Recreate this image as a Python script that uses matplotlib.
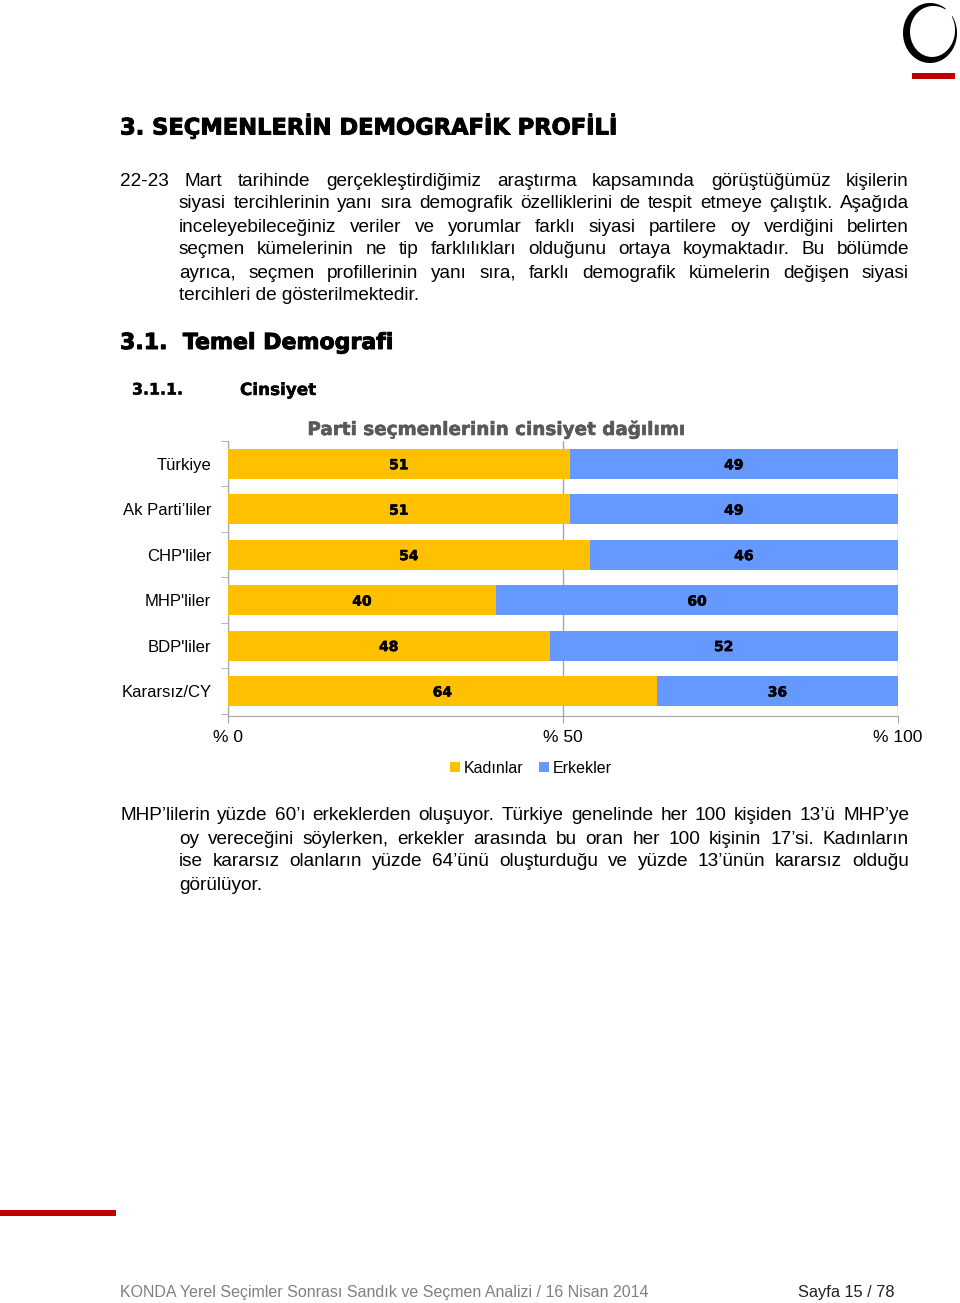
import numpy as np
import matplotlib

matplotlib.use("Agg")
import matplotlib.pyplot as plt  # noqa: E402
import matplotlib.patheffects as pe  # noqa: E402
from matplotlib.patches import Polygon, Rectangle  # noqa: E402

# ---- data -----------------------------------------------------------------
categories = ["Türkiye", "Ak Parti’liler", "CHP'liler", "MHP'liler", "BDP'liler", "Kararsız/CY"]
kadinlar = [51, 51, 54, 40, 48, 64]
erkekler = [49, 49, 46, 60, 52, 36]
series_names = ["Kadınlar", "Erkekler"]
x_ticks = [0, 50, 100]
x_ticklabels = ["% 0", "% 50", "% 100"]

YELLOW = "#FFC000"
BLUE = "#6699FF"
RED = "#C00000"
GRID = "#A6A6A6"
BODY = "Liberation Sans"
HEAVY = "DejaVu Sans"

PARA1 = [
    "22-23 Mart tarihinde gerçekleştirdiğimiz araştırma kapsamında görüştüğümüz kişilerin",
    "siyasi tercihlerinin yanı sıra demografik özelliklerini de tespit etmeye çalıştık. Aşağıda",
    "inceleyebileceğiniz veriler ve yorumlar farklı siyasi partilere oy verdiğini belirten",
    "seçmen kümelerinin ne tip farklılıkları olduğunu ortaya koymaktadır. Bu bölümde",
    "ayrıca, seçmen profillerinin yanı sıra, farklı demografik kümelerin değişen siyasi",
    "tercihleri de gösterilmektedir.",
]
PARA2 = [
    "MHP’lilerin yüzde 60’ı erkeklerden oluşuyor. Türkiye genelinde her 100 kişiden 13’ü MHP’ye",
    "oy vereceğini söylerken, erkekler arasında bu oran her 100 kişinin 17’si. Kadınların",
    "ise kararsız olanların yüzde 64’ünü oluşturduğu ve yüzde 13’ünün kararsız olduğu",
    "görülüyor.",
]

fig = plt.figure(figsize=(9.6, 13.03), dpi=100)
page = fig.add_axes([0, 0, 1, 1])
page.set_xlim(0, 960)
page.set_ylim(1303, 0)
page.axis("off")
renderer = fig.canvas.get_renderer()


def width_of(s, size, **kw):
    t = page.text(0, 0, s, fontsize=size, **kw)
    w = t.get_window_extent(renderer).width
    t.remove()
    return w


def fitted(s, target, **kw):
    # font size that makes s about `target` pixels wide
    return 12 * target / width_of(s, 12, **kw)


def heavy_fx(color, lw):
    return [pe.withStroke(linewidth=lw, foreground=color)]


def heading(x, y, s, target, color="black", ha="left", lw=0.7):
    size = fitted(s, target - 1, family=HEAVY, fontweight="bold")
    page.text(x, y, s, fontsize=size, family=HEAVY, fontweight="bold", va="center",
              color=color, ha=ha, path_effects=heavy_fx(color, lw))


BODY_SIZE = fitted(PARA1[1], 715, family=BODY)


def justified(lines, x_first, x_rest, x_right, y0, step, size):
    """Draw a paragraph, justifying every line except the last."""
    for i, line in enumerate(lines):
        x0 = x_first if i == 0 else x_rest
        y = y0 + i * step
        if i == len(lines) - 1:
            page.text(x0, y, line, fontsize=size, family=BODY, va="center")
            continue
        words = line.split(" ")
        texts = [page.text(0, y, w, fontsize=size, family=BODY, va="center") for w in words]
        widths = [t.get_window_extent(renderer).width for t in texts]
        gap = (x_right - x0 - sum(widths)) / (len(words) - 1)
        x = x0
        for t, w in zip(texts, widths):
            t.set_x(x)
            x += w + gap


# ---- headings and text ------------------------------------------------------
heading(120, 126, "3. SEÇMENLERİN DEMOGRAFİK PROFİLİ", 497)
justified(PARA1, 120, 179, 909, 181, 23, BODY_SIZE)
heading(120, 343, "3.1.  Temel Demografi", 274)
heading(132, 390, "3.1.1.", 52, lw=0.3)
heading(240, 390, "Cinsiyet", 77, lw=0.3)
heading(496, 430, "Parti seçmenlerinin cinsiyet dağılımı", 377, color="#595959", ha="center",
        lw=0.4)
justified(PARA2, 120, 179, 909, 816, 23, BODY_SIZE)

page.text(120, 1293, "KONDA Yerel Seçimler Sonrası Sandık ve Seçmen Analizi / 16 Nisan 2014",
          fontsize=11.5, family=BODY, color="#808080", va="center")
page.text(895, 1293, "Sayfa 15 / 78", fontsize=11.8, family=BODY, color="#222222",
          ha="right", va="center")

# red rules and logo
page.add_patch(Rectangle((0, 1210), 116, 6, color=RED, lw=0))
page.add_patch(Rectangle((912, 73), 43, 6, color=RED, lw=0))
th = np.radians(np.linspace(55, 395, 200))
outer = np.column_stack([930 + 27 * np.cos(th), 33 - 30 * np.sin(th)])
thick = 1.5 + 5 * np.clip(np.sin(np.linspace(0, np.pi, 200)), 0, 1)
inner = np.column_stack([931 + (27 - thick) * np.cos(th), 33 - (30 - thick) * np.sin(th)])
page.add_patch(Polygon(np.vstack([outer, inner[::-1]]), closed=True, color="black", lw=0))

# ---- chart ------------------------------------------------------------------
ax = fig.add_axes([228 / 960, 1 - 716 / 1303, 670 / 960, 275 / 1303])
y = np.arange(len(categories))
ax.barh(y, kadinlar, height=0.66, color=YELLOW, label=series_names[0], zorder=3)
ax.barh(y, erkekler, left=kadinlar, height=0.66, color=BLUE, label=series_names[1], zorder=3)
for yi, k, e in zip(y, kadinlar, erkekler):
    for xc, v in [(k / 2, k), (k + e / 2, e)]:
        ax.text(xc, yi, str(v), ha="center", va="center_baseline", fontsize=10,
                family=HEAVY, fontweight="bold", zorder=4, path_effects=heavy_fx("black", 0.4))

ax.set_xlim(0, 100)
ax.set_ylim(len(categories) - 0.45, -0.5)
ax.set_xticks(x_ticks)
ax.set_xticklabels(x_ticklabels, family=BODY, fontsize=12.5)
ax.set_yticks(y)
ax.set_yticklabels(categories, family=BODY, fontsize=12)
ax.set_yticks(np.arange(-0.5, len(categories)), minor=True)
ax.tick_params(axis="y", which="major", length=0, pad=12)
ax.tick_params(axis="y", which="minor", length=5, color=GRID)
ax.tick_params(axis="x", length=5, color=GRID, pad=5)
ax.grid(axis="x", color=GRID, lw=1, zorder=0)
for s in ["top", "right"]:
    ax.spines[s].set_visible(False)
for s in ["left", "bottom"]:
    ax.spines[s].set_color(GRID)

ax.legend(loc="center", bbox_to_anchor=(0.452, -0.19), ncol=2, frameon=False,
          handlelength=0.6, handleheight=0.6, handletextpad=0.25, columnspacing=1.0,
          prop={"family": BODY, "size": 11.5})

fig.savefig("out.png", dpi=100)
